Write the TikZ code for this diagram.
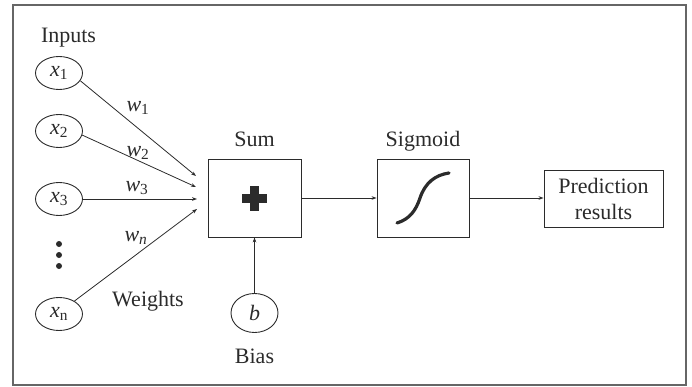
\documentclass[tikz,border=0pt]{standalone}
\usepackage{fontspec}
\setmainfont{Liberation Serif}
\usetikzlibrary{shapes.geometric,arrows.meta}
\definecolor{ink}{HTML}{2B2B2B}
\tikzset{
  inp/.style={draw=ink, line width=0.9pt, ellipse, minimum width=47pt, minimum height=33pt, inner sep=0pt, text=ink},
  blk/.style={draw=ink, line width=0.9pt, rectangle, inner sep=0pt, text=ink},
  lbl/.style={text=ink, inner sep=0pt},
  con/.style={draw=ink, line width=0.8pt, -{Stealth[length=5pt,width=3.6pt]}},
  dot/.style={circle, fill=ink, inner sep=0pt, minimum size=6pt}
}
\begin{document}
\begin{tikzpicture}[x=1pt,y=-1pt, every node/.append style={font=\fontsize{22}{25.5}\selectfont}]
\useasboundingbox (0,0) rectangle (692,387);
\node[draw=gray!80!black, line width=1.2pt, rectangle, minimum width=673pt, minimum height=380pt, inner sep=0pt] (frame) at (349.5,195) {};
% inputs
\node[inp] (x1) at (59,73) {\textit{x}\textsubscript{1}};
\node[inp] (x2) at (59,131) {\textit{x}\textsubscript{2}};
\node[inp] (x3) at (59,199) {\textit{x}\textsubscript{3}};
\node[inp] (xn) at (59,314) {\textit{x}\textsubscript{n}};
\node[dot] (d1) at (59,244) {};
\node[dot] (d2) at (59,255) {};
\node[dot] (d3) at (59,266) {};
\node[lbl, anchor=base] (inputs) at (68.5,43) {Inputs};
% sum
\node[blk, minimum width=93pt, minimum height=78pt] (sum) at (254.5,198) {};
\fill[ink] (250,186.5) rectangle (258.5,211);
\fill[ink] (242,194.5) rectangle (266.5,203);
\node[lbl, anchor=base] (sumlbl) at (254.5,147) {Sum};
% bias
\node[inp, minimum height=39pt] (b) at (254.5,313) {\textit{b}};
\node[lbl, anchor=base] (bias) at (254.5,363) {Bias};
% sigmoid
\node[blk, minimum width=92pt, minimum height=78pt] (sig) at (423,198) {};
\draw[ink, line width=3.2pt, line cap=round] (397,223) .. controls (410,219) and (416,210) .. (420,198) .. controls (425,183) and (435,175) .. (449,173);
\node[lbl, anchor=base] (siglbl) at (423,147) {Sigmoid};
% prediction
\node[blk, minimum width=119pt, minimum height=57pt, align=center] (pred) at (603.5,199) {Prediction\\results};
% weights
\coordinate (e1) at (196,176);
\coordinate (e2) at (196,187);
\coordinate (e3) at (197,199);
\coordinate (en) at (197,209);
\draw[con] (x1.-20) -- (e1);
\draw[con] (x2.-10) -- (e2);
\draw[con] (x3.east) -- (e3);
\draw[con] (xn.40) -- (en);
\node[lbl] (w1) at (138,108) {\textit{w}\textsubscript{1}};
\node[lbl] (w2) at (138,153) {\textit{w}\textsubscript{2}};
\node[lbl] (w3) at (137,188) {\textit{w}\textsubscript{3}};
\node[lbl] (wn) at (136,238) {\textit{w}\textsubscript{\textit{n}}};
\node[lbl, anchor=base] (weights) at (148,306) {Weights};
% flow
\draw[con] (b.north) -- (sum.south);
\draw[con] (sum.east) -- (sig.west);
\draw[con] (sig.east) -- (sig.east -| pred.west);
\end{tikzpicture}
\end{document}
